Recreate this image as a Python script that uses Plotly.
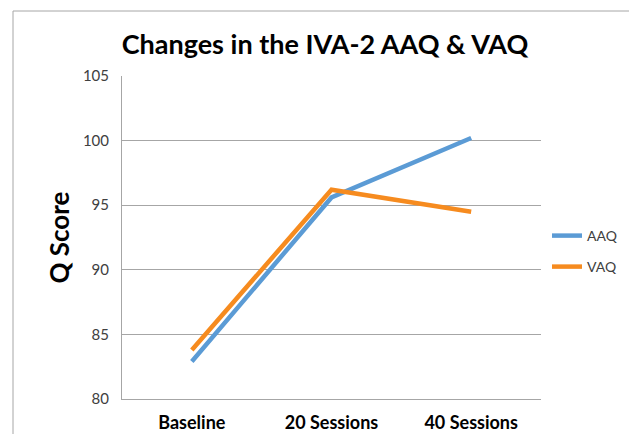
import plotly.graph_objects as go

categories = ["Baseline", "20 Sessions", "40 Sessions"]
aaq_values = [82.9, 95.6, 100.2]
vaq_values = [83.8, 96.2, 94.5]
y_ticks = [80, 85, 90, 95, 100, 105]

OFF = 8  # page body margin
W, H = 637 - OFF, 434 - OFF
L, R, T, B = 122 - OFF, 541 - OFF, 76 - OFF, 399 - OFF

def px(x):
    return (x - OFF - L) / (R - L)

def py(y):
    return (B - (y - OFF)) / (B - T)

fig = go.Figure()
fig.add_trace(go.Scatter(x=categories, y=aaq_values, mode="lines", name="AAQ",
                         line=dict(color="#5B9BD5", width=4.5), legend="legend"))
fig.add_trace(go.Scatter(x=categories, y=vaq_values, mode="lines", name="VAQ",
                         line=dict(color="#F68B1F", width=4.5), legend="legend2"))

leg_common = dict(xanchor="left", yanchor="middle",
                  font=dict(size=14, color="#404040"), bgcolor="rgba(0,0,0,0)",
                  itemwidth=30)

fig.update_layout(
    width=W, height=H,
    margin=dict(l=L, r=W - R, t=T, b=H - B, autoexpand=False),
    paper_bgcolor="white", plot_bgcolor="white",
    font=dict(family="Lato, Open Sans, sans-serif", color="#404040"),
    title=dict(text="<b>Changes in the IVA-2 AAQ &amp; VAQ</b>",
               font=dict(size=27, color="black", family="Lato, sans-serif"),
               x=(325 - OFF) / W, xanchor="center", y=1 - (45 - OFF) / H, yanchor="middle"),
    showlegend=True,
    legend=dict(x=px(547), y=py(236), **leg_common),
    legend2=dict(x=px(547), y=py(267), **leg_common),
    xaxis=dict(showline=True, linecolor="#A6A6A6", linewidth=1, automargin=False,
               showgrid=False, ticks="", ticklabelstandoff=7,
               tickfont=dict(size=18, color="black", family="Lato, sans-serif", weight="bold"),
               range=[-0.5, 2.5]),
    yaxis=dict(range=[80, 105], tickvals=y_ticks, showline=True, linecolor="#A6A6A6",
               linewidth=1, showgrid=True, gridcolor="#A6A6A6", gridwidth=1,
               ticks="", ticklabelstandoff=9, automargin=False,
               tickfont=dict(size=15, color="#404040"),
               zeroline=False),
    annotations=[dict(text="<b>Q Score</b>", textangle=-90, xref="paper", yref="paper",
                      x=px(58), y=0.5, xanchor="center", yanchor="middle", showarrow=False,
                      font=dict(size=26, color="black", family="Lato, sans-serif"))],
    shapes=[dict(type="rect", xref="paper", yref="paper",
                 x0=px(13), x1=px(635), y0=py(445), y1=py(11),
                 line=dict(color="#A6A6A6", width=1), fillcolor="rgba(0,0,0,0)", layer="below")],
)

fig.write_html("out.html")
